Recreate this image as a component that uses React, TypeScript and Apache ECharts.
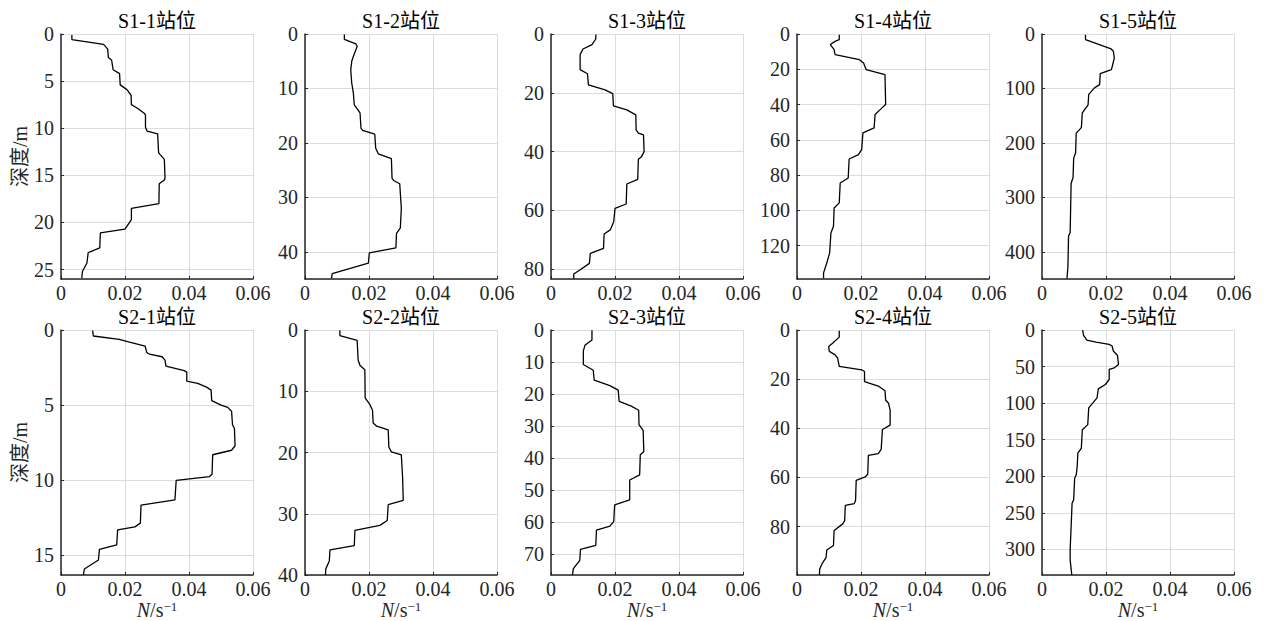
import React, { useEffect, useRef } from "react";
import * as echarts from "echarts";

const FONT = '"Liberation Serif", "Times New Roman", "Noto Sans CJK SC", serif';

const titles = ["S1-1站位", "S1-2站位", "S1-3站位", "S1-4站位", "S1-5站位", "S2-1站位", "S2-2站位", "S2-3站位", "S2-4站位", "S2-5站位"];
const yMax = [26, 45, 83.3, 139, 450, 16.3, 40, 76.6, 99.7, 335];
const yInterval = [5, 10, 20, 20, 100, 5, 10, 10, 20, 50];
const xMin = 0;
const xMax = 0.06;
const xInterval = 0.02;

// [N (s^-1), depth (m)]
const S1_1 = [[0.0034, 0.1], [0.0034, 0.6], [0.0133, 1.1], [0.0146, 1.6], [0.0148, 2.5], [0.0158, 2.75], [0.0163, 3.8], [0.0183, 4.2], [0.0185, 5.4], [0.0206, 5.9], [0.0219, 6.5], [0.022, 7.5], [0.024, 7.9], [0.026, 8.4], [0.0264, 8.6], [0.0264, 9.9], [0.0269, 10.3], [0.0302, 10.6], [0.0305, 12.6], [0.031, 12.8], [0.0323, 13.3], [0.0325, 15.3], [0.0323, 15.5], [0.0307, 15.9], [0.0306, 18.0], [0.022, 18.5], [0.022, 19.7], [0.02, 20.7], [0.0123, 21.1], [0.0121, 22.7], [0.0085, 23.2], [0.0081, 24.3], [0.0067, 25.2], [0.0065, 25.9]];
const S1_2 = [[0.0123, 0.1], [0.0123, 1.0], [0.0159, 1.8], [0.0163, 2.3], [0.0153, 3.8], [0.0146, 5.0], [0.0143, 6.6], [0.0146, 9.0], [0.0151, 10.8], [0.0154, 13.0], [0.0172, 14.5], [0.0175, 17.3], [0.018, 17.7], [0.0218, 18.4], [0.0221, 21.0], [0.0229, 22.0], [0.027, 22.9], [0.0272, 26.5], [0.0277, 26.9], [0.0296, 27.5], [0.0301, 32.0], [0.0298, 35.6], [0.0286, 36.6], [0.0284, 39.3], [0.0201, 40.2], [0.0198, 42.1], [0.0085, 44.0], [0.0083, 44.9]];
const S1_3 = [[0.014, 0.2], [0.014, 1.7], [0.0128, 3.6], [0.01, 5.1], [0.0091, 7.0], [0.0091, 12.1], [0.0114, 13.5], [0.0117, 17.3], [0.0169, 19.0], [0.0193, 20.3], [0.0195, 24.4], [0.0237, 25.8], [0.0265, 27.5], [0.0266, 32.6], [0.0273, 33.7], [0.0289, 34.3], [0.0291, 40.0], [0.0283, 41.7], [0.0273, 42.6], [0.0271, 49.4], [0.0237, 51.0], [0.0235, 57.8], [0.02, 59.3], [0.0196, 63.8], [0.0185, 66.6], [0.0166, 68.0], [0.0164, 72.9], [0.0123, 74.6], [0.012, 78.0], [0.0089, 80.3], [0.0071, 81.6], [0.0071, 83.2]];
const S1_4 = [[0.0132, 0.4], [0.0132, 3.2], [0.0119, 4.2], [0.0104, 6.0], [0.0112, 7.9], [0.0116, 8.9], [0.0119, 11.7], [0.0195, 14.6], [0.0208, 16.4], [0.0216, 20.2], [0.0275, 23.1], [0.0277, 40.0], [0.026, 42.9], [0.0244, 45.7], [0.0241, 53.3], [0.0206, 56.1], [0.0202, 65.6], [0.0192, 68.4], [0.0163, 70.9], [0.016, 81.7], [0.0135, 84.5], [0.0132, 95.8], [0.0116, 98.7], [0.0114, 109.1], [0.0106, 112.9], [0.0102, 124.2], [0.0093, 129.9], [0.0083, 135.5], [0.0083, 138.6]];
const S1_5 = [[0.0136, 1.2], [0.0136, 10.4], [0.0216, 27.5], [0.0223, 31.8], [0.0226, 44.1], [0.0217, 65.5], [0.0182, 72.8], [0.018, 93], [0.0164, 99], [0.0146, 111], [0.0144, 130], [0.0126, 145], [0.0123, 172], [0.0107, 182], [0.0105, 218], [0.0099, 228], [0.0097, 264], [0.0091, 274], [0.0088, 365], [0.0083, 371], [0.0081, 427], [0.0078, 449]];
const S2_1 = [[0.0099, 0.04], [0.0101, 0.4], [0.0182, 0.62], [0.0208, 0.78], [0.0263, 1.07], [0.0268, 1.5], [0.0276, 1.6], [0.0316, 1.78], [0.0325, 2.0], [0.0328, 2.4], [0.0385, 2.7], [0.0393, 2.8], [0.0393, 3.4], [0.0427, 3.55], [0.0455, 3.8], [0.0469, 4.0], [0.0471, 4.7], [0.05, 5.0], [0.0521, 5.15], [0.0533, 5.4], [0.0536, 6.3], [0.0542, 6.55], [0.0544, 7.7], [0.0533, 8.0], [0.0474, 8.3], [0.0472, 9.6], [0.0464, 9.75], [0.036, 10.0], [0.0356, 11.3], [0.025, 11.65], [0.0248, 12.85], [0.0231, 13.1], [0.0177, 13.3], [0.0174, 14.3], [0.012, 14.6], [0.0117, 15.3], [0.0073, 15.9], [0.007, 16.3]];
const S2_2 = [[0.0109, 0.05], [0.0109, 0.9], [0.0163, 1.7], [0.0166, 4.9], [0.0172, 5.8], [0.0187, 6.5], [0.0188, 11.1], [0.0203, 12.2], [0.0211, 13.1], [0.0213, 15.2], [0.0224, 15.7], [0.026, 16.3], [0.0262, 19.1], [0.027, 19.9], [0.0301, 20.4], [0.0305, 24.0], [0.0307, 27.8], [0.026, 28.5], [0.0257, 31.1], [0.0234, 31.9], [0.0156, 32.7], [0.0154, 35.2], [0.0078, 35.9], [0.0076, 37.7], [0.0065, 39.0], [0.0064, 40.0]];
const S2_3 = [[0.0128, 0.1], [0.0128, 3.1], [0.0106, 4.8], [0.0101, 6.6], [0.0101, 10.8], [0.0132, 12.6], [0.0135, 15.7], [0.0184, 17.4], [0.021, 18.8], [0.0213, 22.3], [0.0251, 23.8], [0.0274, 25.1], [0.0275, 29.6], [0.0288, 31.4], [0.029, 38.0], [0.0279, 39.0], [0.0277, 45.3], [0.0246, 46.9], [0.0246, 53.1], [0.0199, 54.7], [0.0196, 59.9], [0.0184, 61.3], [0.0142, 62.6], [0.014, 67.3], [0.0092, 68.6], [0.009, 72.0], [0.007, 74.6], [0.0067, 76.6]];
const S2_4 = [[0.0132, 0.3], [0.0132, 2.9], [0.0112, 5.3], [0.0099, 6.7], [0.0101, 8.7], [0.0119, 10.1], [0.0127, 11.4], [0.0132, 14.8], [0.0202, 16.2], [0.0211, 16.9], [0.0211, 21.0], [0.0254, 22.8], [0.0275, 24.7], [0.0277, 28.5], [0.0286, 29.8], [0.0291, 32.6], [0.0291, 38.7], [0.0267, 40.5], [0.0263, 48.6], [0.0254, 50.3], [0.0223, 51.0], [0.0221, 58.7], [0.0213, 59.8], [0.0185, 61.2], [0.0183, 69.3], [0.0179, 70.7], [0.0151, 71.4], [0.0149, 77.5], [0.0143, 78.9], [0.0116, 81.6], [0.0114, 87.7], [0.0093, 89.5], [0.0091, 92.5], [0.0078, 95.2], [0.0071, 97.3], [0.007, 99.7]];
const S2_5 = [[0.0127, 0], [0.013, 7.3], [0.014, 13.7], [0.0169, 16.5], [0.021, 19.7], [0.0219, 21.9], [0.0223, 28.8], [0.0236, 34.8], [0.0239, 47.1], [0.0226, 51.7], [0.021, 54.0], [0.021, 67.7], [0.0198, 74.5], [0.0176, 80.5], [0.0172, 92.8], [0.0159, 99.7], [0.0146, 106.5], [0.0143, 129.4], [0.0126, 136.3], [0.0123, 161.4], [0.0112, 168.3], [0.011, 186.6], [0.0107, 198], [0.0102, 202.6], [0.0099, 232.3], [0.0094, 236.9], [0.0091, 268.9], [0.0088, 300.9], [0.0088, 314.6], [0.0093, 334.7]];

const profiles = [S1_1, S1_2, S1_3, S1_4, S1_5, S2_1, S2_2, S2_3, S2_4, S2_5];

const yAxisName = "深度/m";
const xAxisName = "{i|N}{n|/s}{sup|−1}";

export default function App() {
  const ref = useRef<HTMLDivElement>(null);
  useEffect(() => {
    document.body.style.margin = "0";
    if (!ref.current) return;
    const chart = echarts.init(ref.current, null, { renderer: "svg" });
    const colLeft = [61, 305, 551, 797, 1042];
    const rowTop = [34, 330];
    const W = 192;
    const H = 245;
    const axisColor = "#262626";
    const grids: any[] = [];
    const xAxes: any[] = [];
    const yAxes: any[] = [];
    const series: any[] = [];
    const graphics: any[] = [];
    for (let i = 0; i < 10; i++) {
      const r = Math.floor(i / 5);
      const c = i % 5;
      grids.push({ left: colLeft[c], top: rowTop[r], width: W, height: H, containLabel: false, outerBoundsMode: "none" });
      const maxIsTick = Math.abs(yMax[i] / yInterval[i] - Math.round(yMax[i] / yInterval[i])) < 1e-9;
      xAxes.push({
        type: "value",
        gridIndex: i,
        min: xMin,
        max: xMax,
        interval: xInterval,
        position: "bottom",
        axisLine: { show: true, onZero: false, lineStyle: { color: axisColor, width: 1.5 } },
        axisTick: { show: true, inside: true, length: 3, lineStyle: { color: axisColor } },
        axisLabel: { color: axisColor, fontSize: 20, fontFamily: FONT, margin: 4 },
        splitLine: { show: true, lineStyle: { color: "#dcdcdc", width: 1 } },
        name: r === 1 ? xAxisName : "",
        nameLocation: "middle",
        nameGap: 24,
        nameTextStyle: {
          color: axisColor,
          rich: {
            i: { fontFamily: FONT, fontSize: 20, fontStyle: "italic", color: axisColor },
            n: { fontFamily: FONT, fontSize: 20, color: axisColor },
            sup: { fontFamily: FONT, fontSize: 13, color: axisColor, verticalAlign: "top", padding: [0, 0, 8, 0] },
          },
        },
      });
      yAxes.push({
        type: "value",
        gridIndex: i,
        min: 0,
        max: yMax[i],
        interval: yInterval[i],
        inverse: true,
        axisLine: { show: true, onZero: false, lineStyle: { color: axisColor, width: 1.5 } },
        axisTick: { show: true, inside: true, length: 3, lineStyle: { color: axisColor } },
        axisLabel: { color: axisColor, fontSize: 20, fontFamily: FONT, margin: 7, showMaxLabel: maxIsTick },
        splitLine: { show: true, lineStyle: { color: "#dcdcdc", width: 1 } },
        name: c === 0 ? yAxisName : "",
        nameLocation: "middle",
        nameRotate: 90,
        nameGap: 30,
        nameTextStyle: { color: axisColor, fontSize: 20, fontFamily: FONT },
      });
      series.push({
        type: "line",
        xAxisIndex: i,
        yAxisIndex: i,
        data: profiles[i],
        showSymbol: false,
        symbol: "none",
        lineStyle: { color: "#000", width: 1.3 },
      });
      graphics.push({
        type: "text",
        x: colLeft[c] + W / 2,
        y: rowTop[r] - 13,
        style: { text: titles[i], font: `20px ${FONT}`, fill: "#000", align: "center", verticalAlign: "middle" },
      });
    }
    chart.setOption({
      animation: false,
      backgroundColor: "#fff",
      grid: grids,
      xAxis: xAxes,
      yAxis: yAxes,
      series,
      graphic: graphics,
    });
    return () => chart.dispose();
  }, []);
  return <div ref={ref} style={{ width: 1264, height: 621 }} />;
}
